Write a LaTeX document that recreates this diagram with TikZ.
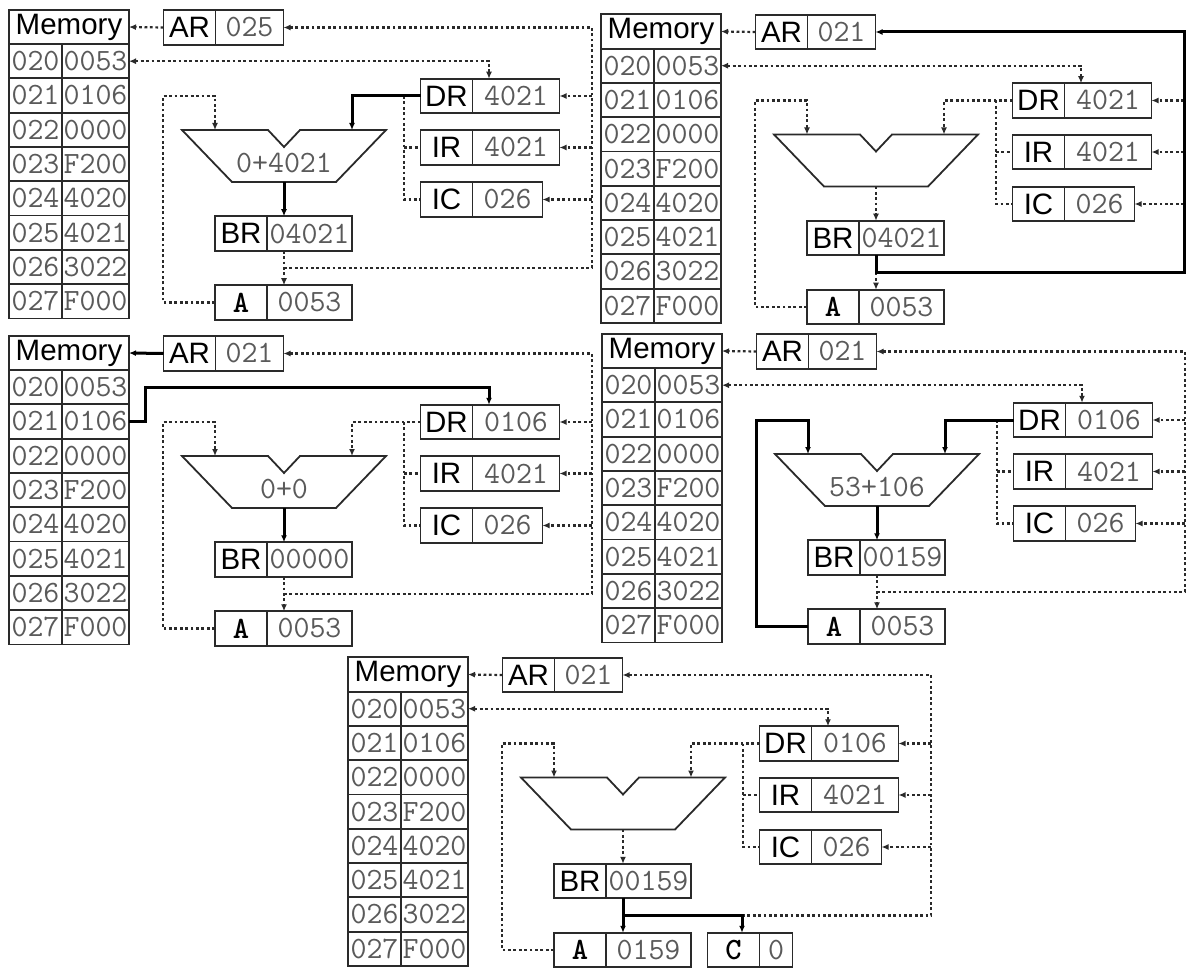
\documentclass[tikz,border=0pt]{standalone}
\usepackage{fontspec}
\setsansfont{Liberation Sans}
\usepackage{tikz}
\usetikzlibrary{arrows.meta}
\definecolor{ink}{HTML}{2A2A2A}
\definecolor{digit}{HTML}{5A5A5A}

% one snapshot of the machine: memory, registers, ALU, fixed wiring
\newcommand{\cpustate}[7]{%
  \node[hdr] (mem) at (69,27) {Memory};
  \foreach \adr/\wrd [count=\i from 0] in {020/0053,021/0106,022/0000,023/F200,024/4020,025/4021,026/3022,027/F000}{
    \node[cell,minimum width=53] (a\i) at (35.5,61.2+34.3*\i) {\adr};
    \node[cell,minimum width=67] (v\i) at (95.5,61.2+34.3*\i) {\wrd};
  }
  \node[lab] (arl) at (189.5,27.5) {AR};
  \node[val=68,anchor=west] (arv) at (arl.east) {#1};
  \node[lab] (drl) at (446.5,96) {DR};
  \node[val,anchor=west] (drv) at (drl.east) {#2};
  \node[lab] (irl) at (446.5,147.5) {IR};
  \node[val,anchor=west] (irv) at (irl.east) {#3};
  \node[lab] (icl) at (446.5,199.5) {IC};
  \node[val=70,anchor=west] (icv) at (icl.east) {#4};
  \node[lab] (brl) at (241,233.5) {BR};
  \node[val=85,anchor=west] (brv) at (brl.east) {#5};
  \node[lab,font=\ttfamily\bfseries\fontsize{31}{31}\selectfont] (al) at (241,302.5) {A};
  \node[val=85,anchor=west] (av) at (al.east) {#6};
  \draw[alu] (182,130) -- (268,130) -- (284,147) -- (300,130) -- (386,130) -- (336,182) -- (232,182) -- cycle;
  \node[cell,draw=none] (aluop) at (284,163) {#7};
  \coordinate (aluL) at (215,130);
  \coordinate (aluR) at (352,130);
  \coordinate (aluO) at (284,182);
  \coordinate (jn) at (284,268);
  \coordinate (bus) at (592,268);
  \coordinate (lp) at (163,96);
  \coordinate (ctl) at (404,96);
  \coordinate (jog) at (145,61.2);
  \coordinate (drtop) at (489,78.75);
  \draw[wire,->] (bus |- drv.east) -- (drv.east);
  \draw[wire,->] (bus |- irv.east) -- (irv.east);
  \draw[wire,->] (bus |- icv.east) -- (icv.east);
  \draw[wire] (ctl) |- (icl.west);
  \draw[wire] (ctl |- irl.west) -- (irl.west);
}

\begin{document}
\begin{tikzpicture}[x=1pt,y=-1pt,>={Latex[length=7pt,width=6pt]},
  cell/.style={draw=ink,line width=1.8pt,minimum height=34.3,inner sep=0,outer sep=0,text=digit,font=\ttfamily\fontsize{31}{31}\selectfont},
  hdr/.style={cell,minimum width=120,text=black,font=\sffamily\fontsize{29.5}{30}\selectfont},
  lab/.style={cell,minimum width=52,minimum height=34.5,text=black,font=\sffamily\fontsize{29.5}{30}\selectfont},
  val/.style={cell,minimum width=#1,minimum height=34.5},
  val/.default=87,
  alu/.style={draw=ink,line width=1.8pt,line join=miter},
  wire/.style={draw=ink,line width=2.2pt,dash pattern=on 2.8pt off 2.6pt},
  busy/.style={draw=black,line width=3pt}]
  \useasboundingbox (0,0) rectangle (1189,968);

  % 1: DR through the ALU into BR
  \begin{scope}[name prefix=p1-]
    \cpustate{025}{4021}{4021}{026}{04021}{0053}{0+4021}
    \draw[wire,->] (arl.west) -- (mem.east);
    \draw[wire,<->] (v0.east) -| (drtop);
    \draw[wire,->] (jn) -- (bus) |- (arv.east);
    \draw[wire,->] (al.west) -| (lp) -| (aluL);
    \draw[busy,->] (drl.west) -| (aluR);
    \draw[busy,->] (aluO) -- (aluO |- brl.north);
    \draw[wire,->] (aluO |- brl.south) -- (aluO |- al.north);
  \end{scope}

  % 2: BR back to AR
  \begin{scope}[shift={(592,4.5)},name prefix=p2-]
    \cpustate{021}{4021}{4021}{026}{04021}{0053}{}
    \draw[wire,->] (arl.west) -- (mem.east);
    \draw[wire,<->] (v0.east) -| (drtop);
    \draw[wire,->] (al.west) -| (lp) -| (aluL);
    \draw[wire,->] (drl.west) -| (aluR);
    \draw[wire,->] (aluO) -- (aluO |- brl.north);
    \draw[wire,->] (jn) -- (aluO |- al.north);
    \draw[busy,->] (aluO |- brl.south) -- (jn) -- (bus) |- (arv.east);
  \end{scope}

  % 3: read word 021 into DR
  \begin{scope}[shift={(0,326)},name prefix=p3-]
    \cpustate{021}{0106}{4021}{026}{00000}{0053}{0+0}
    \draw[busy,->] (arl.west) -- (mem.east);
    \draw[busy,->] (v1.east) -| (jog) -| (drtop);
    \draw[wire,->] (jn) -- (bus) |- (arv.east);
    \draw[wire,->] (al.west) -| (lp) -| (aluL);
    \draw[wire,->] (drl.west) -| (aluR);
    \draw[busy,->] (aluO) -- (aluO |- brl.north);
    \draw[wire,->] (aluO |- brl.south) -- (aluO |- al.north);
  \end{scope}

  % 4: A + DR
  \begin{scope}[shift={(593,324)},name prefix=p4-]
    \cpustate{021}{0106}{4021}{026}{00159}{0053}{53+106}
    \draw[wire,->] (arl.west) -- (mem.east);
    \draw[wire,<->] (v0.east) -| (drtop);
    \draw[wire,->] (jn) -- (bus) |- (arv.east);
    \draw[busy,->] (al.west) -| (lp) -| (aluL);
    \draw[busy,->] (drl.west) -| (aluR);
    \draw[busy,->] (aluO) -- (aluO |- brl.north);
    \draw[wire,->] (aluO |- brl.south) -- (aluO |- al.north);
  \end{scope}

  % 5: BR into A and C
  \begin{scope}[shift={(339,647.5)},name prefix=p5-]
    \cpustate{021}{0106}{4021}{026}{00159}{0159}{}
    \node[lab,font=\ttfamily\bfseries\fontsize{31}{31}\selectfont] (cl) at (394.5,302.5) {C};
    \node[val=33,anchor=west] (cv) at (cl.east) {0};
    \coordinate (cjn) at (403,268);
    \draw[wire,->] (arl.west) -- (mem.east);
    \draw[wire,<->] (v0.east) -| (drtop);
    \draw[wire,->] (al.west) -| (lp) -| (aluL);
    \draw[wire,->] (drl.west) -| (aluR);
    \draw[wire,->] (aluO) -- (aluO |- brl.north);
    \draw[wire,->] (cjn) -- (bus) |- (arv.east);
    \draw[busy,->] (aluO |- brl.south) -- (jn) -- (aluO |- al.north);
    \draw[busy,->] (jn) -- (cjn) -- (cjn |- cl.north);
  \end{scope}
\end{tikzpicture}
\end{document}
